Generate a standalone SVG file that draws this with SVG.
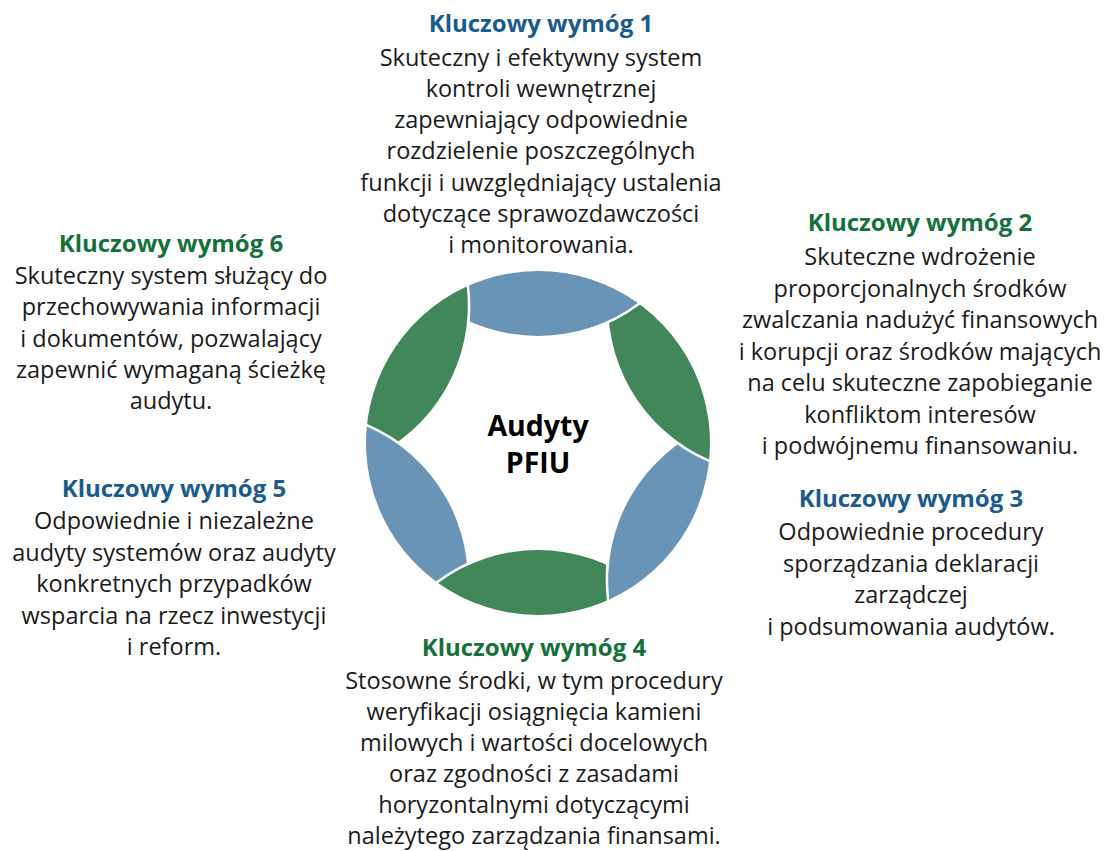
<svg xmlns="http://www.w3.org/2000/svg" width="1105" height="851" viewBox="0 0 1105 851">
<style>
text{font-family:"Open Sans","Noto Sans","Liberation Sans",sans-serif;text-anchor:middle}
.h{font-weight:bold;font-size:24px}
.hb{fill:#1b5a8c}
.hg{fill:#15703b}
.b{font-size:23.5px;fill:#1a1a1a}
.c{font-weight:bold;font-size:28.5px;fill:#000}
.lb{fill:#6994b6}
.lg{fill:#41875a}
.lens{stroke:#fff;stroke-width:5;paint-order:stroke;stroke-linejoin:round}
</style>
<defs>
<path id="lensShape" d="M -99.9 -140 A 172 172 0 0 1 99.9 -140 A 167.7 167.7 0 0 1 -99.9 -140 Z"/>
<clipPath id="tipClip">
<path d="M 538 443 L 292 271 L 350 140 L 460 153 Z"/>
</clipPath>
</defs>
<g id="ring">
<use href="#lensShape" class="lens lg" transform="translate(538 443) rotate(300)"/>
<use href="#lensShape" class="lens lb" transform="translate(538 443) rotate(240)"/>
<use href="#lensShape" class="lens lg" transform="translate(538 443) rotate(180)"/>
<use href="#lensShape" class="lens lb" transform="translate(538 443) rotate(120)"/>
<use href="#lensShape" class="lens lg" transform="translate(538 443) rotate(60)"/>
<use href="#lensShape" class="lens lb" transform="translate(538 443) rotate(0)"/>
<g clip-path="url(#tipClip)">
<use href="#lensShape" class="lens lg" transform="translate(538 443) rotate(300)"/>
</g>
</g>
<g id="center">
<text class="c" x="538" y="436">Audyty</text>
<text class="c" x="538" y="473">PFIU</text>
</g>
<g id="connectors"></g>
<g id="req1">
<text class="h hb" x="541" y="32">Kluczowy wymóg 1</text>
<text class="b" x="541" y="65.5">Skuteczny i efektywny system</text>
<text class="b" x="541" y="96.8">kontroli wewnętrznej</text>
<text class="b" x="541" y="128.1">zapewniający odpowiednie</text>
<text class="b" x="541" y="159.4">rozdzielenie poszczególnych</text>
<text class="b" x="541" y="190.7">funkcji i uwzględniający ustalenia</text>
<text class="b" x="541" y="222">dotyczące sprawozdawczości</text>
<text class="b" x="541" y="253.3">i monitorowania.</text>
</g>
<g id="req2">
<text class="h hg" x="920" y="231">Kluczowy wymóg 2</text>
<text class="b" x="920" y="265">Skuteczne wdrożenie</text>
<text class="b" x="920" y="296.5">proporcjonalnych środków</text>
<text class="b" x="920" y="328">zwalczania nadużyć finansowych</text>
<text class="b" x="920" y="359.5">i korupcji oraz środków mających</text>
<text class="b" x="920" y="391">na celu skuteczne zapobieganie</text>
<text class="b" x="920" y="422.5">konfliktom interesów</text>
<text class="b" x="920" y="454">i podwójnemu finansowaniu.</text>
</g>
<g id="req3">
<text class="h hb" x="911" y="507">Kluczowy wymóg 3</text>
<text class="b" x="911" y="540">Odpowiednie procedury</text>
<text class="b" x="911" y="571.5">sporządzania deklaracji</text>
<text class="b" x="911" y="603">zarządczej</text>
<text class="b" x="911" y="634.5">i podsumowania audytów.</text>
</g>
<g id="req4">
<text class="h hg" x="534" y="656">Kluczowy wymóg 4</text>
<text class="b" x="534" y="688.5">Stosowne środki, w tym procedury</text>
<text class="b" x="534" y="719.6">weryfikacji osiągnięcia kamieni</text>
<text class="b" x="534" y="750.7">milowych i wartości docelowych</text>
<text class="b" x="534" y="781.8">oraz zgodności z zasadami</text>
<text class="b" x="534" y="812.9">horyzontalnymi dotyczącymi</text>
<text class="b" x="534" y="844">należytego zarządzania finansami.</text>
</g>
<g id="req5">
<text class="h hb" x="174" y="497">Kluczowy wymóg 5</text>
<text class="b" x="174" y="529">Odpowiednie i niezależne</text>
<text class="b" x="174" y="560.5">audyty systemów oraz audyty</text>
<text class="b" x="174" y="592">konkretnych przypadków</text>
<text class="b" x="174" y="623.5">wsparcia na rzecz inwestycji</text>
<text class="b" x="174" y="655">i reform.</text>
</g>
<g id="req6">
<text class="h hg" x="171" y="252">Kluczowy wymóg 6</text>
<text class="b" x="171" y="284">Skuteczny system służący do</text>
<text class="b" x="171" y="315.3">przechowywania informacji</text>
<text class="b" x="171" y="346.6">i dokumentów, pozwalający</text>
<text class="b" x="171" y="377.9">zapewnić wymaganą ścieżkę</text>
<text class="b" x="171" y="409.2">audytu.</text>
</g>
</svg>
